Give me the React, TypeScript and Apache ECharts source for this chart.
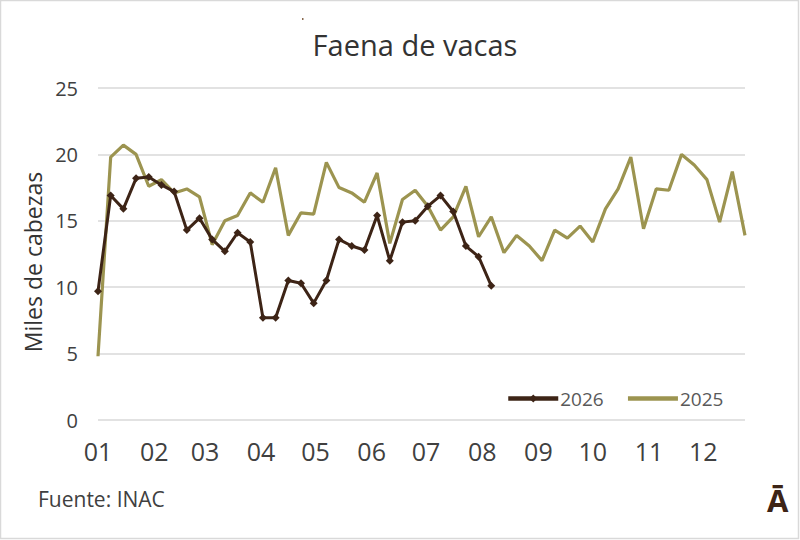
import React, { useEffect, useRef } from "react";
import * as echarts from "echarts";

const monthLabels = ["01", "02", "03", "04", "05", "06", "07", "08", "09", "10", "11", "12"];
const monthStartDays = [0, 31, 59, 90, 120, 151, 181, 212, 243, 273, 304, 334];
const yTicks = [0, 5, 10, 15, 20, 25];

const values2026 = [
  9.7, 16.9, 15.9, 18.2, 18.3, 17.7, 17.2, 14.3, 15.2, 13.6, 12.7, 14.1, 13.4, 7.7, 7.7, 10.5,
  10.3, 8.8, 10.5, 13.6, 13.1, 12.8, 15.4, 12.0, 14.9, 15.0, 16.1, 16.9, 15.7, 13.1, 12.3, 10.1,
];

const values2025 = [
  4.8, 19.8, 20.7, 20.0, 17.6, 18.1, 17.1, 17.4, 16.8, 13.2, 15.0, 15.4, 17.1, 16.4, 19.0, 13.9,
  15.6, 15.5, 19.4, 17.5, 17.1, 16.4, 18.6, 13.3, 16.6, 17.3, 16.1, 14.3, 15.3, 17.6, 13.8, 15.3,
  12.6, 13.9, 13.1, 12.0, 14.3, 13.7, 14.6, 13.4, 15.9, 17.4, 19.8, 14.4, 17.4, 17.3, 20.0, 19.2,
  18.1, 14.9, 18.7, 13.9,
];

const DAYS_PER_WEEK = 7;
const toPoints = (vals: number[]) => vals.map((v, i) => [i * DAYS_PER_WEEK, v]);

const FONT = "'Open Sans', 'Noto Sans', sans-serif";
const C2026 = "#3d2416";
const C2025 = "#9c9450";

export default function App() {
  const ref = useRef<HTMLDivElement>(null);

  useEffect(() => {
    document.body.style.margin = "0";
    if (!ref.current) return;
    const chart = echarts.init(ref.current, null, { renderer: "svg" });
    chart.setOption({
      animation: false,
      backgroundColor: "#ffffff",
      textStyle: { fontFamily: FONT },
      title: {
        text: "Faena de vacas",
        left: 410,
        textAlign: "center",
        top: 25,
        textStyle: { fontSize: 29, fontWeight: "normal", color: "#333333", fontFamily: FONT },
      },
      grid: { left: 98, right: 55, top: 88, bottom: 120, containLabel: false },
      legend: {
        left: 506,
        top: 389,
        padding: 0,
        itemWidth: 50,
        itemHeight: 10,
        itemGap: 22,
        lineStyle: { width: 4.5 },
        textStyle: { fontSize: 19, color: "#595959", fontFamily: FONT, padding: [0, 0, 0, -3] },
        data: [
          { name: "2026" },
          { name: "2025", itemStyle: { color: "rgba(0,0,0,0)", opacity: 0, borderWidth: 0 } },
        ],
      },
      xAxis: {
        type: "value",
        min: 0,
        max: (values2025.length - 1) * DAYS_PER_WEEK,
        axisLine: { show: false },
        axisTick: { show: false },
        splitLine: { show: false },
        axisLabel: {
          customValues: monthStartDays,
          margin: 18,
          fontSize: 25,
          color: "#404040",
          fontFamily: FONT,
          formatter: (v: number) => {
            const idx = monthStartDays.indexOf(Math.round(v));
            return idx >= 0 ? monthLabels[idx] : "";
          },
        },
      },
      yAxis: {
        type: "value",
        min: yTicks[0],
        max: yTicks[yTicks.length - 1],
        interval: 5,
        name: "Miles de cabezas",
        nameLocation: "middle",
        nameGap: 50,
        nameTextStyle: { fontSize: 23, color: "#333333", fontFamily: FONT, padding: [0, 16, 0, 0] },
        axisLine: { show: false },
        axisTick: { show: false },
        axisLabel: { margin: 20, fontSize: 20, color: "#404040", fontFamily: FONT },
        splitLine: { lineStyle: { color: "#d9d9d9", width: 1.5 } },
      },
      series: [
        {
          name: "2025",
          type: "line",
          data: toPoints(values2025),
          symbol: "none",
          lineStyle: { color: C2025, width: 3.2 },
          itemStyle: { color: C2025 },
          z: 2,
        },
        {
          name: "2026",
          type: "line",
          data: toPoints(values2026),
          symbol: "diamond",
          symbolSize: 8,
          lineStyle: { color: C2026, width: 3 },
          itemStyle: { color: C2026 },
          z: 3,
        },
      ],
      graphic: [
        {
          type: "rect",
          shape: { x: 0.5, y: 0.5, width: 798, height: 538 },
          style: { fill: "none", stroke: "#d9d9d9", lineWidth: 1.5 },
          silent: true,
        },
        {
          type: "text",
          left: 38,
          top: 488,
          style: { text: "Fuente: INAC", fontSize: 21, fill: "#404040", fontFamily: FONT },
        },
        {
          type: "text",
          left: 767,
          top: 484,
          style: { text: "Ā", fontSize: 31, fontWeight: "bold", fill: C2026, fontFamily: FONT },
        },
        {
          type: "rect",
          shape: { x: 302, y: 18, width: 1.5, height: 2 },
          style: { fill: "#8a6a50" },
          silent: true,
        },
      ],
    });
    return () => chart.dispose();
  }, []);

  return <div ref={ref} style={{ width: 800, height: 540 }} />;
}
